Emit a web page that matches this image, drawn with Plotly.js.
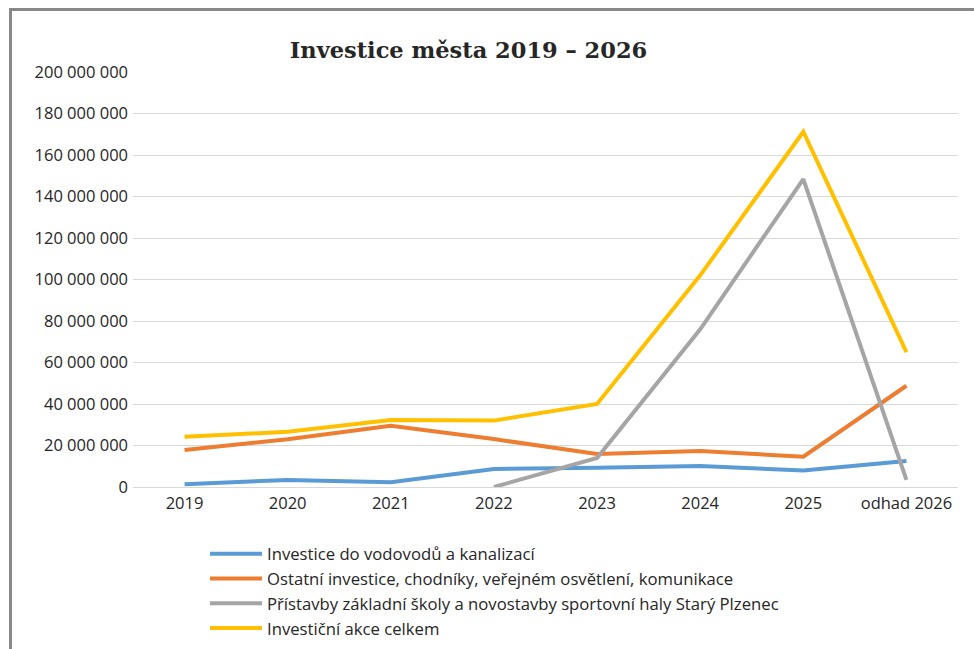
<!DOCTYPE html>
<html>
<head>
<meta charset="utf-8">
<script src="https://cdn.plot.ly/plotly-3.0.1.min.js"></script>
<style>
html,body{margin:0;padding:0;background:#fff;}
#chart{width:974px;height:649px;}
</style>
</head>
<body>
<div id="chart"></div>
<script>
const categories = ["2019","2020","2021","2022","2023","2024","2025","odhad 2026"];
const seriesNames = [
  "Investice do vodovodů a kanalizací",
  "Ostatní investice, chodníky, veřejném osvětlení, komunikace",
  "Přístavby základní školy a novostavby sportovní haly Starý Plzenec",
  "Investiční akce celkem"
];
const vodovody = [1300000, 3400000, 2300000, 8700000, 9300000, 10100000, 7900000, 12500000];
const ostatni  = [17800000, 23000000, 29500000, 23100000, 15900000, 17300000, 14600000, 48800000];
const skola    = [null, null, null, 0, 14000000, 76000000, 148400000, 3400000];
const celkem   = [24200000, 26600000, 32300000, 32000000, 40000000, 102000000, 171200000, 65000000];
const colors = ["#5B9BD5", "#ED7D31", "#A5A5A5", "#FFC000"];
const allSeries = [vodovody, ostatni, skola, celkem];

const traces = allSeries.map((vals, i) => ({
  type: "scatter",
  mode: "lines",
  x: categories,
  y: vals,
  name: seriesNames[i],
  line: {color: colors[i], width: 4},
  connectgaps: false
}));

const tickFont = {family: "Open Sans, sans-serif", size: 16.5, color: "#262626"};

const layout = {
  width: 974,
  height: 649,
  margin: {l: 133, r: 16, t: 72, b: 162, autoexpand: false},
  paper_bgcolor: "#ffffff",
  plot_bgcolor: "#ffffff",
  separators: ", ",
  font: {family: "Open Sans, sans-serif", size: 16.5, color: "#262626"},
  title: {
    text: "<b>Investice města 2019 – 2026</b>",
    font: {family: "DejaVu Serif, serif", size: 22.5, color: "#262626"},
    x: 0.481, xanchor: "center", xref: "container",
    y: 0.923, yanchor: "middle", yref: "container"
  },
  xaxis: {
    type: "category",
    range: [-0.5, 7.5],
    showgrid: false,
    zeroline: false,
    showline: false,
    ticks: "",
    automargin: false,
    tickangle: 0,
    ticklabelstandoff: 4,
    tickfont: tickFont
  },
  yaxis: {
    range: [0, 200000000],
    dtick: 20000000,
    tickformat: ",d",
    gridcolor: "#d9d9d9",
    gridwidth: 1,
    zeroline: true,
    zerolinecolor: "#d9d9d9",
    zerolinewidth: 1,
    showline: false,
    ticks: "",
    automargin: false,
    ticklabelstandoff: 4,
    tickfont: tickFont
  },
  showlegend: true,
  legend: {
    orientation: "v",
    x: (205 - 133) / 825, xanchor: "left",
    y: (487 - 536.5) / 415, yanchor: "top",
    font: {family: "Open Sans, sans-serif", size: 16.7, color: "#262626"},
    itemwidth: 52,
    tracegroupgap: 0,
    bgcolor: "rgba(0,0,0,0)"
  },
  shapes: [{
    type: "rect", xref: "paper", yref: "paper",
    x0: (10.5 - 133) / 825, x1: 1.2,
    y0: -0.6, y1: (487 - 9.5) / 415,
    line: {color: "#888888", width: 3},
    fillcolor: "rgba(0,0,0,0)"
  }]
};

Plotly.newPlot("chart", traces, layout, {displayModeBar: false, staticPlot: true});
</script>
</body>
</html>
